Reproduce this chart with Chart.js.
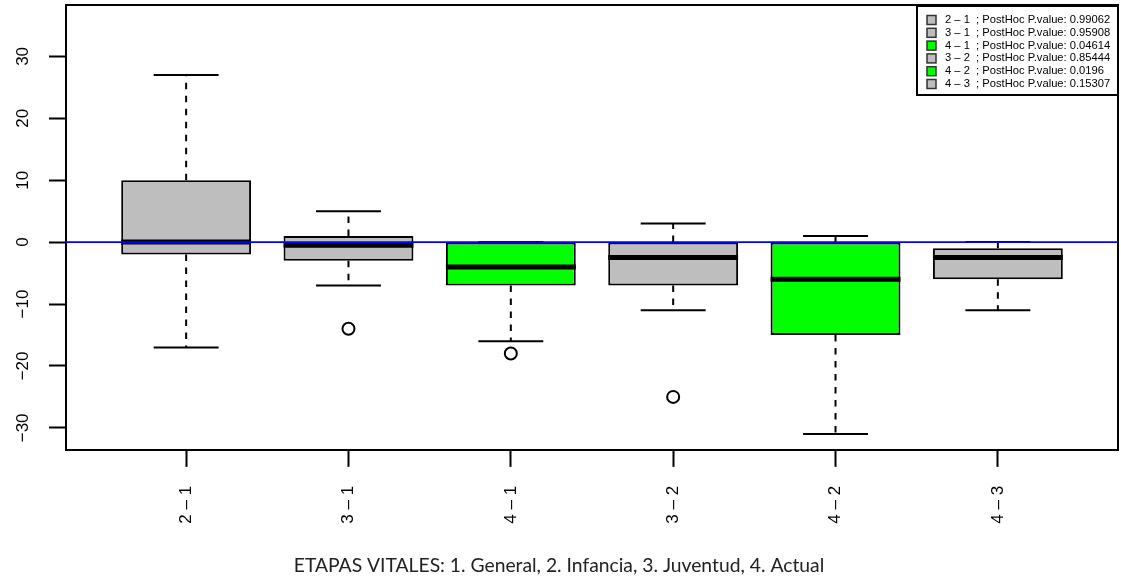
<!DOCTYPE html>
<html>
<head>
<meta charset="utf-8">
<title>Post-hoc por etapas vitales</title>
<script src="https://cdn.jsdelivr.net/npm/chart.js@4.4.1/dist/chart.umd.min.js"></script>
<style>
  html, body { margin: 0; padding: 0; background: #ffffff; }
  #wrap { width: 1121px; height: 577px; }
</style>
</head>
<body>
<div id="wrap"><canvas id="chart" width="1121" height="577"></canvas></div>
<script>
// Pairwise differences between life stages (box-and-whisker summary per pair)
const categories  = ["2 – 1", "3 – 1", "4 – 1", "3 – 2", "4 – 2", "4 – 3"];
const whiskerLow  = [-17, -7, -16, -11, -31, -11];
const quartile1   = [-2, -3, -7, -7, -15, -6];
const medians     = [0, -0.5, -4, -2.5, -6, -2.5];
const quartile3   = [10, 1, 0, 0, 0, -1];
const whiskerHigh = [27, 5, 0, 3, 1, 0];
const outliers    = [[], [-14], [-18], [-25], [], []];
const pValues     = [0.99062, 0.95908, 0.04614, 0.85444, 0.0196, 0.15307];
const yTickValues = [-30, -20, -10, 0, 10, 20, 30];
const referenceValue = 0;
const alpha = 0.05;
const axisTitle = "ETAPAS VITALES: 1. General, 2. Infancia, 3. Juventud, 4. Actual";

// axis ranges
const X_MIN = 0.26, X_MAX = 6.74;
const Y_MIN = -33.55, Y_MAX = 38.3;

// styling
const FONT = '"Liberation Sans", Arial, Helvetica, sans-serif';
const GRAY = '#BEBEBE', GREEN = '#00FF00';
const BOX_HALF = 0.4, CAP_HALF = 0.2;

const positions = categories.map((_, i) => i + 1);
const boxColors = pValues.map(p => p < alpha ? GREEN : GRAY);

const boxData = positions.map((x, i) => ({ x, y: [quartile1[i], quartile3[i]] }));
const medianData = positions.flatMap((x, i) => [
  { x: x - BOX_HALF, y: medians[i] }, { x: x + BOX_HALF, y: medians[i] }, { x, y: null }
]);
const whiskerData = positions.flatMap((x, i) => [
  { x, y: quartile3[i] }, { x, y: whiskerHigh[i] }, { x, y: null },
  { x, y: quartile1[i] }, { x, y: whiskerLow[i] }, { x, y: null }
]);
const capData = positions.flatMap((x, i) => [
  { x: x - CAP_HALF, y: whiskerHigh[i] }, { x: x + CAP_HALF, y: whiskerHigh[i] }, { x, y: null },
  { x: x - CAP_HALF, y: whiskerLow[i] }, { x: x + CAP_HALF, y: whiskerLow[i] }, { x, y: null }
]);
const outlierData = positions.flatMap((x, i) => outliers[i].map(v => ({ x, y: v })));
const referenceData = [{ x: X_MIN, y: referenceValue }, { x: X_MAX, y: referenceValue }];

const fmtTick = v => (v < 0 ? '\u2212' + Math.abs(v) : String(v));

// boxed legend in the upper right corner of the plot area
const pairLegend = {
  id: 'pairLegend',
  afterDatasetsDraw(chart) {
    const { ctx, chartArea } = chart;
    const w = 201, h = 89, rowH = 12.8;
    const left = chartArea.right - w, top = chartArea.top + 1;
    ctx.save();
    ctx.fillStyle = '#ffffff';
    ctx.fillRect(left, top, w, h);
    ctx.lineWidth = 2;
    ctx.strokeStyle = '#000000';
    ctx.strokeRect(left, top, w, h);
    ctx.font = '11.2px ' + FONT;
    ctx.textBaseline = 'middle';
    ctx.textAlign = 'left';
    categories.forEach((c, i) => {
      const cy = top + 14 + i * rowH;
      ctx.fillStyle = boxColors[i];
      ctx.fillRect(left + 10, cy - 4.5, 9, 9);
      ctx.lineWidth = 1.5;
      ctx.strokeStyle = '#333333';
      ctx.strokeRect(left + 10, cy - 4.5, 9, 9);
      ctx.fillStyle = '#000000';
      ctx.fillText(c + '  ; PostHoc P.value: ' + pValues[i], left + 28, cy);
    });
    ctx.restore();
  }
};

// scales never reserve extra margins beyond the sizes set here
const noPadding = s => { s.paddingTop = 0; s.paddingBottom = 0; s.paddingLeft = 0; s.paddingRight = 0; };

const tickGrid = {
  display: true, drawOnChartArea: false, drawTicks: true,
  tickLength: 17, tickWidth: 2, tickColor: '#000000', offset: false
};
const frameBorder = { display: true, color: '#000000', width: 2 };
const hiddenTicks = { display: false };
const hiddenGrid = { display: false, drawTicks: false };

new Chart(document.getElementById('chart'), {
  type: 'bar',
  data: {
    datasets: [
      { type: 'line', data: referenceData, borderColor: '#0000FF', borderWidth: 1.6,
        pointRadius: 0, order: 1 },
      { type: 'scatter', data: outlierData, pointStyle: 'circle', pointRadius: 6,
        backgroundColor: 'rgba(0,0,0,0)', borderColor: '#000000', borderWidth: 2, order: 2 },
      { type: 'line', data: medianData, borderColor: '#000000', borderWidth: 5,
        borderCapStyle: 'butt', pointRadius: 0, spanGaps: false, order: 3 },
      { type: 'line', data: capData, borderColor: '#000000', borderWidth: 2,
        pointRadius: 0, spanGaps: false, order: 4 },
      { type: 'line', data: whiskerData, borderColor: '#000000', borderWidth: 2,
        borderDash: [6.5, 6.5], pointRadius: 0, spanGaps: false, order: 5 },
      { type: 'bar', data: boxData, backgroundColor: boxColors, borderColor: '#000000',
        borderWidth: 2, borderSkipped: false, barPercentage: 0.8, categoryPercentage: 1, order: 6 }
    ]
  },
  options: {
    responsive: false,
    animation: false,
    devicePixelRatio: 1,
    events: [],
    layout: { autoPadding: false, padding: { left: 0, top: 5, right: 3, bottom: 0 } },
    plugins: {
      legend: { display: false },
      tooltip: { enabled: false },
      title: {
        display: true, position: 'bottom', text: axisTitle, color: '#222222',
        font: { family: 'Lato, "Open Sans", sans-serif', size: 19.3, weight: 'normal', lineHeight: 1.2 },
        padding: 0
      }
    },
    scales: {
      x: {
        type: 'linear', axis: 'x', position: 'bottom', min: X_MIN, max: X_MAX, offset: false,
        afterBuildTicks: s => { s.ticks = positions.map(v => ({ value: v })); },
        afterFit: s => { s.height = 104; noPadding(s); },
        grid: tickGrid, border: frameBorder,
        ticks: {
          autoSkip: false, minRotation: 90, maxRotation: 90, padding: 19, color: '#000000',
          font: { family: FONT, size: 17 }, callback: v => categories[v - 1]
        }
      },
      y: {
        type: 'linear', axis: 'y', position: 'left', min: Y_MIN, max: Y_MAX,
        afterBuildTicks: s => { s.ticks = yTickValues.map(v => ({ value: v })); },
        afterFit: s => { s.width = 66; noPadding(s); },
        grid: tickGrid, border: frameBorder,
        ticks: {
          autoSkip: false, minRotation: 90, maxRotation: 90, crossAlign: 'center', padding: 11,
          color: '#000000', font: { family: FONT, size: 17 }, callback: fmtTick
        }
      },
      xTop: {
        type: 'linear', axis: 'x', position: 'top', min: X_MIN, max: X_MAX,
        afterFit: s => { s.height = 0; noPadding(s); },
        grid: hiddenGrid, ticks: hiddenTicks, border: frameBorder
      },
      yRight: {
        type: 'linear', axis: 'y', position: 'right', min: Y_MIN, max: Y_MAX,
        afterFit: s => { s.width = 0; noPadding(s); },
        grid: hiddenGrid, ticks: hiddenTicks, border: frameBorder
      }
    }
  },
  plugins: [pairLegend]
});
</script>
</body>
</html>
